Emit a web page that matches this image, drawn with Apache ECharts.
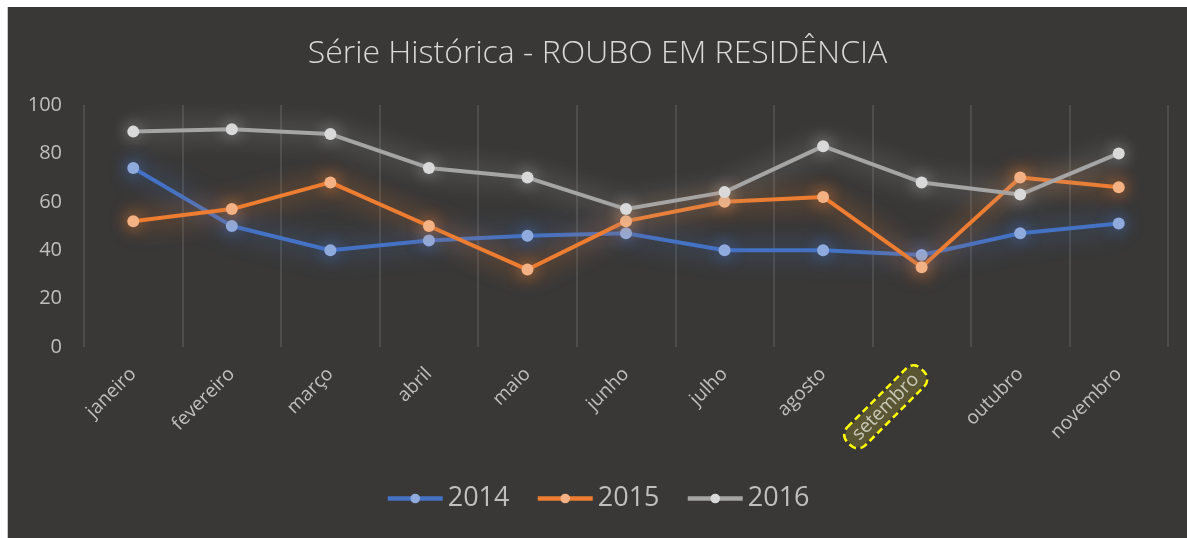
<!DOCTYPE html>
<html>
<head>
<meta charset="utf-8">
<script src="https://cdn.jsdelivr.net/npm/echarts@6/dist/echarts.min.js"></script>
<style>
    html, body {
        margin: 0;
        padding: 0;
        background: #ffffff;
    }
    #chart {
        position: absolute;
        left: 7px;
        top: 7px;
        width: 1180px;
        height: 531px;
        background: #393837;
        border-left: 1px solid #c8c8c8;
        box-sizing: border-box;
    }
</style>
</head>
<body>
<div id="chart"></div>
<script>
const meses = ['janeiro', 'fevereiro', 'março', 'abril', 'maio', 'junho', 'julho', 'agosto', 'setembro', 'outubro', 'novembro']
const anos = ['2014', '2015', '2016']
const v2014 = [74, 50, 40, 44, 46, 47, 40, 40, 38, 47, 51]
const v2015 = [52, 57, 68, 50, 32, 52, 60, 62, 33, 70, 66]
const v2016 = [89, 90, 88, 74, 70, 57, 64, 83, 68, 63, 80]
const yTicks = [0, 20, 40, 60, 80, 100]

const cores = ['#4472C4', '#ED7D31', '#A5A5A5']      // linhas
const coresPonto = ['#8FAADC', '#F4B183', '#D9D9D9']  // marcadores
const txt = '#bfbfbf'
const fonte = '"Open Sans", sans-serif'

// mês destacado (caixa amarela tracejada)
const destaque = 'setembro'
const categorias = meses.map((m) => {
    if (m !== destaque) return m
    return {
        value: m,
        textStyle: {
            backgroundColor: '#5a5532',
            borderColor: '#ffff00',
            borderWidth: 2.5,
            borderType: [7, 4],
            borderRadius: 9,
            padding: [2, 8, 2, 8],
            color: '#c9c9b8'
        }
    }
})

function serie(nome, dados, i) {
    return {
        name: nome,
        type: 'line',
        data: dados,
        symbol: 'circle',
        symbolSize: 12,
        lineStyle: {
            color: cores[i],
            width: 4,
            shadowBlur: 24,
            shadowColor: cores[i]
        },
        itemStyle: {
            color: coresPonto[i],
            shadowBlur: 16,
            shadowColor: cores[i]
        }
    }
}

const myChart = echarts.init(document.getElementById('chart'))
myChart.setOption({
    animation: false,
    textStyle: { fontFamily: fonte },
    title: {
        text: 'Série Histórica - ROUBO EM RESIDÊNCIA',
        left: 'center',
        top: 26,
        textStyle: {
            color: '#d9d9d9',
            fontSize: 32,
            fontWeight: 300,
            fontFamily: fonte
        }
    },
    legend: {
        data: anos,
        bottom: 21,
        left: 'center',
        itemWidth: 55,
        itemHeight: 12,
        itemGap: 26,
        lineStyle: { width: 4.5 },
        textStyle: {
            color: txt,
            fontSize: 27,
            fontFamily: fonte
        }
    },
    grid: {
        left: 76,
        right: 19,
        top: 98,
        bottom: 191,
        containLabel: false
    },
    xAxis: {
        type: 'category',
        data: categorias,
        boundaryGap: true,
        axisLine: { show: false },
        axisTick: { show: false },
        axisLabel: {
            interval: 0,
            rotate: 45,
            margin: 24,
            color: txt,
            fontSize: 19,
            fontFamily: fonte
        },
        splitLine: {
            show: true,
            interval: 0,
            lineStyle: { color: '#555453', width: 1.5 }
        }
    },
    yAxis: {
        type: 'value',
        min: yTicks[0],
        max: yTicks[yTicks.length - 1],
        interval: 20,
        axisLine: { show: false },
        axisTick: { show: false },
        splitLine: { show: false },
        axisLabel: {
            color: txt,
            fontSize: 20,
            margin: 22,
            fontFamily: fonte
        }
    },
    series: [
        serie(anos[0], v2014, 0),
        serie(anos[1], v2015, 1),
        serie(anos[2], v2016, 2)
    ]
})
</script>
</body>
</html>
